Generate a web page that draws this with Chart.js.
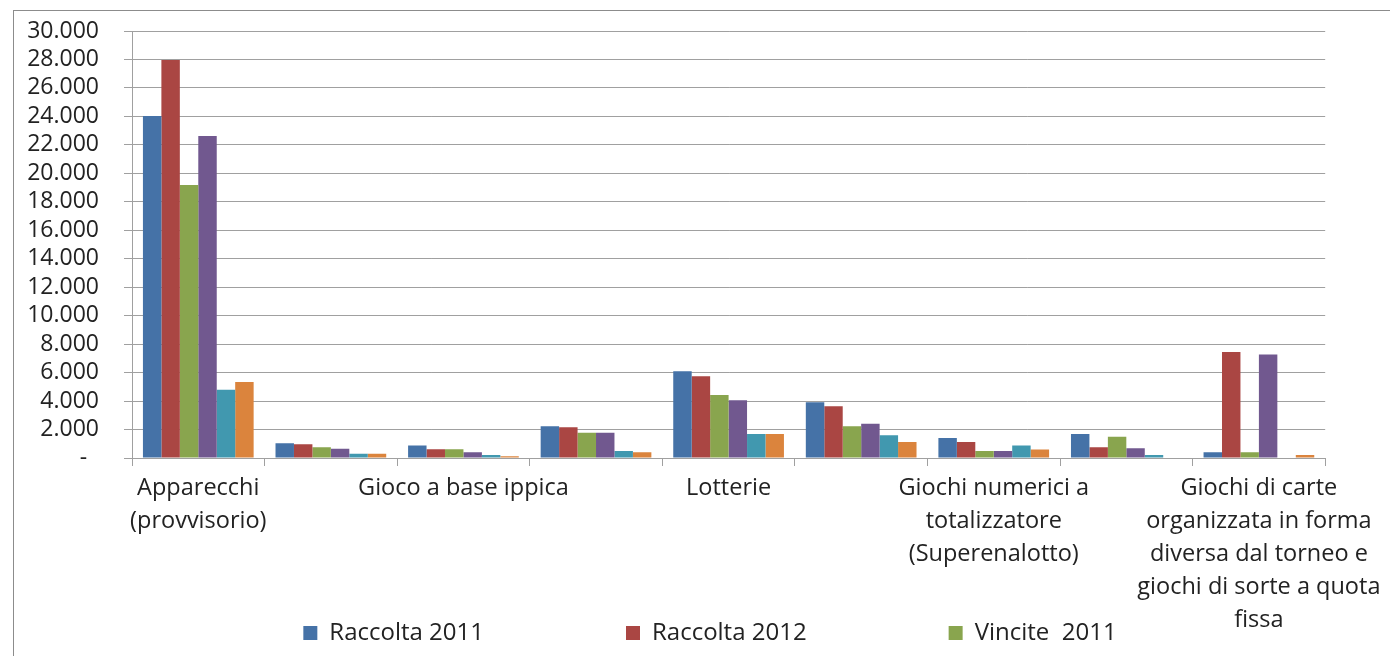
<!DOCTYPE html>
<html>
<head>
<meta charset="utf-8">
<script src="https://cdn.jsdelivr.net/npm/chart.js@4.4.1/dist/chart.umd.min.js"></script>
<style>
html, body { margin: 0; padding: 0; background: #fff; overflow: hidden; }
#wrap { position: relative; width: 1390px; height: 656px; }
#frame { position: absolute; left: 13px; top: 10px; width: 1420px; height: 700px; border: 1px solid #8c8c8c; box-sizing: border-box; }
canvas { position: absolute; left: 0; top: 0; }
</style>
</head>
<body>
<div id="wrap">
  <div id="frame"></div>
  <canvas id="giochiChart" width="1390" height="656"></canvas>
</div>
<script>
// categorie di gioco (le etichette dispari sono nascoste come nel grafico Excel)
const categories = [
    ['Apparecchi', '(provvisorio)'],
    'Bingo',
    'Gioco a base ippica',
    'Giochi a base sportiva',
    'Lotterie',
    'Lotto',
    ['Giochi numerici a', 'totalizzatore', '(Superenalotto)'],
    'Giochi di abilità a distanza',
    ['Giochi di carte', 'organizzata in forma', 'diversa dal torneo e', 'giochi di sorte a quota', 'fissa']
];

// valori in milioni di euro
const raccolta2011 = [24030, 1030, 870, 2230, 6090, 3910, 1410, 1690, 400];
const raccolta2012 = [27960, 960, 610, 2160, 5740, 3630, 1130, 750, 7450];
const vincite2011 = [19180, 750, 610, 1780, 4430, 2230, 490, 1500, 400];
const vincite2012 = [22620, 650, 400, 1780, 4050, 2410, 490, 680, 7280];
const spesa2011 = [4800, 300, 210, 490, 1690, 1590, 870, 210, 0];
const spesa2012 = [5340, 300, 120, 400, 1690, 1130, 590, 0, 210];

const yMax = 30000;
const yStep = 2000;

const FONT = "'Open Sans', 'DejaVu Sans', sans-serif";
const GRID = '#a0a0a0';

// la legenda di Excel sta sotto le etichette dell'asse, sovrapposta al box dell'asse x
const legendTop = 479;
const legendShiftX = 37;

function formatMigliaia(v) {
    if (v === 0) return '-  ';
    return String(v).replace(/\B(?=(\d{3})+(?!\d))/g, '.');
}

const excelLegend = {
    id: 'excelLegend',
    afterLayout(chart) {
        const lg = chart.legend;
        lg.top = legendTop;
        lg.bottom = chart.height;
        lg.left += legendShiftX;
        lg.right += legendShiftX;
    }
};

const giochiData = {
    labels: categories,
    datasets: [
        { label: 'Raccolta 2011', data: raccolta2011, backgroundColor: '#4572A7' },
        { label: 'Raccolta 2012', data: raccolta2012, backgroundColor: '#AA4643' },
        { label: 'Vincite  2011', data: vincite2011, backgroundColor: '#89A54E' },
        { label: 'Vincite  2012', data: vincite2012, backgroundColor: '#71588F' },
        { label: 'Spesa 2011', data: spesa2011, backgroundColor: '#4198AF' },
        { label: 'Spesa 2012', data: spesa2012, backgroundColor: '#DB843D' }
    ]
};

const ctx = document.getElementById('giochiChart').getContext('2d');
const giochiChart = new Chart(ctx, {
    type: 'bar',
    data: giochiData,
    plugins: [excelLegend],
    options: {
        responsive: false,
        animation: false,
        datasets: {
            bar: { categoryPercentage: 0.835, barPercentage: 1.0, borderWidth: 0 }
        },
        layout: { padding: { left: 20, top: 31, right: 64, bottom: 0 } },
        plugins: {
            tooltip: { enabled: false },
            legend: {
                position: 'bottom',
                maxHeight: 1,
                labels: {
                    boxWidth: 14,
                    boxHeight: 14,
                    padding: 142,
                    color: '#222',
                    font: { family: FONT, size: 24 }
                }
            }
        },
        scales: {
            x: {
                offset: true,
                grid: { drawOnChartArea: false, drawTicks: true, tickLength: 8, color: GRID, offset: true },
                border: { display: true, color: GRID },
                ticks: {
                    autoSkip: false,
                    maxRotation: 0,
                    minRotation: 0,
                    padding: 6,
                    color: '#222',
                    font: { family: FONT, size: 23.5, lineHeight: 1.4 },
                    callback: function (value, index) {
                        return index % 2 === 0 ? this.getLabelForValue(value) : '';
                    }
                },
                afterFit: function (scale) { scale.height = 197; }
            },
            y: {
                min: 0,
                max: yMax,
                ticks: {
                    stepSize: yStep,
                    autoSkip: false,
                    padding: 25,
                    color: '#222',
                    font: { family: FONT, size: 23 },
                    callback: formatMigliaia
                },
                grid: { color: GRID, tickLength: 8 },
                border: { display: true, color: GRID },
                afterFit: function (scale) {
                    scale.width = 112;
                    scale.paddingTop = 0;
                    scale.paddingBottom = 0;
                }
            }
        }
    }
});
</script>
</body>
</html>
